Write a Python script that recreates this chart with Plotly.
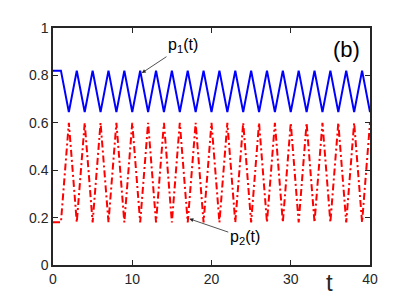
import plotly.graph_objects as go

t = list(range(0, 41))
p1 = [0.82, 0.82, 0.645, 0.82, 0.645, 0.82, 0.645, 0.82, 0.645, 0.82,
      0.645, 0.82, 0.645, 0.82, 0.645, 0.82, 0.645, 0.82, 0.645, 0.82,
      0.645, 0.82, 0.645, 0.82, 0.645, 0.82, 0.645, 0.82, 0.645, 0.82,
      0.645, 0.82, 0.645, 0.82, 0.645, 0.82, 0.645, 0.82, 0.645, 0.82,
      0.645]
p2 = [0.18, 0.18, 0.60, 0.18, 0.60, 0.18, 0.60, 0.18, 0.60, 0.18,
      0.60, 0.18, 0.60, 0.18, 0.60, 0.18, 0.60, 0.18, 0.60, 0.18,
      0.60, 0.18, 0.60, 0.18, 0.60, 0.18, 0.60, 0.18, 0.60, 0.18,
      0.60, 0.18, 0.60, 0.18, 0.60, 0.18, 0.60, 0.18, 0.60, 0.18,
      0.60]
x_ticks = [0, 10, 20, 30, 40]
y_ticks = [0, 0.2, 0.4, 0.6, 0.8, 1]
y_tick_text = ["0", "0.2", "0.4", "0.6", "0.8", "1"]

FONT = "Liberation Sans, Arial, sans-serif"
AX = "#262626"

fig = go.Figure()
fig.add_trace(go.Scatter(x=t, y=p1, mode="lines",
                         line=dict(color="#0000ff", width=2)))
fig.add_trace(go.Scatter(x=t, y=p2, mode="lines",
                         line=dict(color="#ff0000", width=2, dash="7px,3px,2px,3px")))

# page body has an 8px margin, so offset the plot area to compensate
fig.update_layout(
    width=409, height=298,
    margin=dict(l=45, r=47, t=15, b=41),
    paper_bgcolor="white", plot_bgcolor="white",
    showlegend=False,
    font=dict(family=FONT, color=AX, size=14),
)
fig.update_xaxes(range=[0, 40], tickvals=x_ticks, ticks="inside", ticklen=5,
                 showline=True, linecolor=AX, linewidth=1.5, mirror="ticks",
                 tickcolor=AX, showgrid=False, zeroline=False,
                 tickfont=dict(size=14, color=AX))
fig.update_yaxes(range=[0, 1], tickvals=y_ticks, ticktext=y_tick_text,
                 ticks="inside", ticklen=5,
                 showline=True, linecolor=AX, linewidth=1.5, mirror="ticks",
                 tickcolor=AX, showgrid=False, zeroline=False,
                 tickfont=dict(size=14, color=AX))

# labels with arrows
fig.add_annotation(x=11.2, y=0.81, ax=16.4, ay=0.925, xref="x", yref="y",
                   axref="x", ayref="y", text="p<sub>1</sub>(t)", showarrow=True,
                   arrowhead=2, arrowsize=1, arrowwidth=0.8, arrowcolor="#262626",
                   font=dict(size=16, color="black", family=FONT))
fig.add_annotation(x=17.2, y=0.195, ax=24.2, ay=0.115, xref="x", yref="y",
                   axref="x", ayref="y", text="p<sub>2</sub>(t)", showarrow=True,
                   arrowhead=2, arrowsize=1, arrowwidth=0.8, arrowcolor="#262626",
                   font=dict(size=16, color="black", family=FONT))
fig.add_annotation(x=0.927, y=0.909, xref="paper", yref="paper", showarrow=False,
                   xanchor="center", yanchor="middle",
                   text="(b)", font=dict(size=22, color="black", family=FONT))
fig.add_annotation(x=0.871, y=-0.074, xref="paper", yref="paper", showarrow=False,
                   xanchor="center", yanchor="middle",
                   text="t", font=dict(size=24, color=AX, family=FONT))

fig.write_html("out.html")
